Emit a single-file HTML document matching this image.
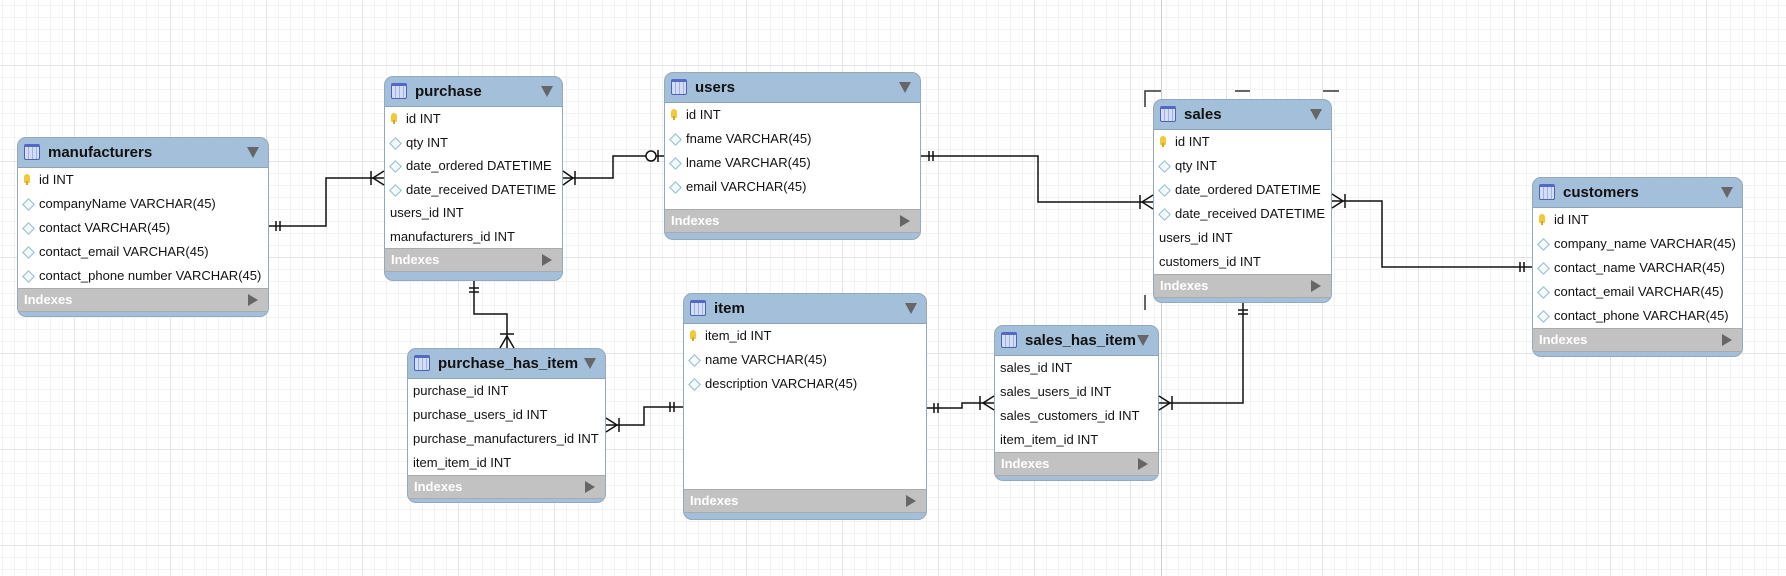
<!DOCTYPE html>
<html><head><meta charset="utf-8"><style>
body{margin:0;width:1786px;height:576px;overflow:hidden;position:relative;font-family:"Liberation Sans",Arial,sans-serif;
background-color:#fff;
background-image:linear-gradient(to right,#e4e4e4 1px,transparent 1px),linear-gradient(to bottom,#e4e4e4 1px,transparent 1px),linear-gradient(to right,#f2f2f2 1px,transparent 1px),linear-gradient(to bottom,#f2f2f2 1px,transparent 1px);
background-size:96px 96px,96px 96px,12px 12px,12px 12px;
background-position:74px 0,0 65px,2px 0,0 5px;}
.t{position:absolute;border:1px solid #94a9be;border-radius:9px;background:#a3bfd9;overflow:hidden;box-sizing:border-box}
.h{height:29px;position:relative;font-weight:bold;font-size:15px;line-height:29px;padding-left:30px;color:#111}
.h:before{content:"";position:absolute;left:6px;top:6px;width:16px;height:16px;border:1px solid #4a63b8;border-radius:2px;background:repeating-linear-gradient(to right,#d3def5 0 3px,#9fb2e2 3px 4px);border-top:3px solid #5468c6;box-sizing:border-box;}
.h:after{content:"";position:absolute;right:9px;top:9px;border-left:6px solid transparent;border-right:6px solid transparent;border-top:11px solid #666}
.b{background:#fff;border-top:1px solid #8fa3b8}
.r{height:24px;line-height:24px;font-size:13px;padding-left:5px;color:#111;white-space:nowrap}
.k,.d{padding-left:21px;position:relative}
.k:before{content:"";position:absolute;left:6px;top:6px;width:6px;height:9px;background:#f1c93a;border-radius:3px 3px 1px 1px}
.k:after{content:"";position:absolute;left:8px;top:13px;width:2px;height:4px;background:#d7a918}
.d:before{content:"";position:absolute;left:6px;top:8px;width:7px;height:7px;border:1px solid #8cbcc9;transform:rotate(45deg);background:#f4fbfd}
.ix{height:22px;background:#c2c2c2;color:#fff;font-weight:bold;font-size:13px;line-height:22px;padding-left:6px;position:relative;border-top:1px solid #aaa;border-bottom:1px solid #aaa}
.ix:after{content:"";position:absolute;right:10px;top:5px;border-top:6px solid transparent;border-bottom:6px solid transparent;border-left:10px solid #666}
svg{position:absolute;left:0;top:0}
</style></head><body>
<div style="position:absolute;left:1161px;top:0;width:1px;height:576px;background:#cfcfcf"></div>

<div class="t" style="left:17px;top:137px;width:252px;height:180px">
<div class="h">manufacturers</div><div class="b">
<div class="r k">id INT</div><div class="r d">companyName VARCHAR(45)</div><div class="r d">contact VARCHAR(45)</div><div class="r d">contact_email VARCHAR(45)</div><div class="r d">contact_phone number VARCHAR(45)</div></div>
<div class="ix">Indexes</div></div>

<div class="t" style="left:384px;top:76px;width:179px;height:205px">
<div class="h">purchase</div><div class="b">
<div class="r k" style="height:23.5px">id INT</div><div class="r d" style="height:23.5px">qty INT</div><div class="r d" style="height:23.5px">date_ordered DATETIME</div><div class="r d" style="height:23.5px">date_received DATETIME</div><div class="r" style="height:23.5px">users_id INT</div><div class="r" style="height:23.5px">manufacturers_id INT</div></div>
<div class="ix">Indexes</div></div>

<div class="t" style="left:664px;top:72px;width:257px;height:168px">
<div class="h">users</div><div class="b" style="height:106px">
<div class="r k">id INT</div><div class="r d">fname VARCHAR(45)</div><div class="r d">lname VARCHAR(45)</div><div class="r d">email VARCHAR(45)</div></div>
<div class="ix">Indexes</div></div>

<div class="t" style="left:1153px;top:99px;width:179px;height:204px">
<div class="h">sales</div><div class="b">
<div class="r k">id INT</div><div class="r d">qty INT</div><div class="r d">date_ordered DATETIME</div><div class="r d">date_received DATETIME</div><div class="r">users_id INT</div><div class="r">customers_id INT</div></div>
<div class="ix">Indexes</div></div>

<div class="t" style="left:1532px;top:177px;width:211px;height:180px">
<div class="h">customers</div><div class="b">
<div class="r k">id INT</div><div class="r d">company_name VARCHAR(45)</div><div class="r d">contact_name VARCHAR(45)</div><div class="r d">contact_email VARCHAR(45)</div><div class="r d">contact_phone VARCHAR(45)</div></div>
<div class="ix">Indexes</div></div>

<div class="t" style="left:407px;top:348px;width:199px;height:155px">
<div class="h">purchase_has_item</div><div class="b">
<div class="r">purchase_id INT</div><div class="r">purchase_users_id INT</div><div class="r">purchase_manufacturers_id INT</div><div class="r">item_item_id INT</div></div>
<div class="ix">Indexes</div></div>

<div class="t" style="left:683px;top:293px;width:244px;height:227px">
<div class="h">item</div><div class="b" style="height:165px">
<div class="r k">item_id INT</div><div class="r d">name VARCHAR(45)</div><div class="r d">description VARCHAR(45)</div></div>
<div class="ix">Indexes</div></div>

<div class="t" style="left:994px;top:325px;width:165px;height:156px">
<div class="h">sales_has_item</div><div class="b">
<div class="r">sales_id INT</div><div class="r">sales_users_id INT</div><div class="r">sales_customers_id INT</div><div class="r">item_item_id INT</div></div>
<div class="ix">Indexes</div></div>

<svg width="1786" height="576" fill="none" stroke="#111" stroke-width="1.5">
<path d="M1145 107V91H1161M1235 91H1250M1323 91H1339M1145 295V310" stroke="#333"/>
<path d="M269 226H326V178H384"/>
<path d="M276 221v10M280 221v10"/>
<path d="M384 171L373 178L384 185M371 171v14"/>
<path d="M563 178H613V156H664"/>
<path d="M563 171L573 178L563 185M575 171v14"/>
<circle cx="651" cy="156" r="5" fill="#fff"/>
<path d="M658 150v12"/>
<path d="M921 156H1038V202H1153"/>
<path d="M929 151v10M933 151v10"/>
<path d="M1153 195L1142 202L1153 209M1140 195v14"/>
<path d="M1332 201H1382V267H1532"/>
<path d="M1332 194L1343 201L1332 208M1345 194v14"/>
<path d="M1520 262v10M1524 262v10"/>
<path d="M474 281V314H507V348"/>
<path d="M469 288h10M469 292h10"/>
<path d="M500 348L507 336L514 348M500 334h14"/>
<path d="M606 425H644V407H683"/>
<path d="M606 418L617 425L606 432M619 418v14"/>
<path d="M670 402v10M674 402v10"/>
<path d="M927 408H962V403H994"/>
<path d="M934 403v10M938 403v10"/>
<path d="M994 396L983 403L994 410M980 396v14"/>
<path d="M1243 303V403H1159"/>
<path d="M1238 310h10M1238 314h10"/>
<path d="M1159 396L1170 403L1159 410M1172 396v14"/>
</svg>
</body></html>
